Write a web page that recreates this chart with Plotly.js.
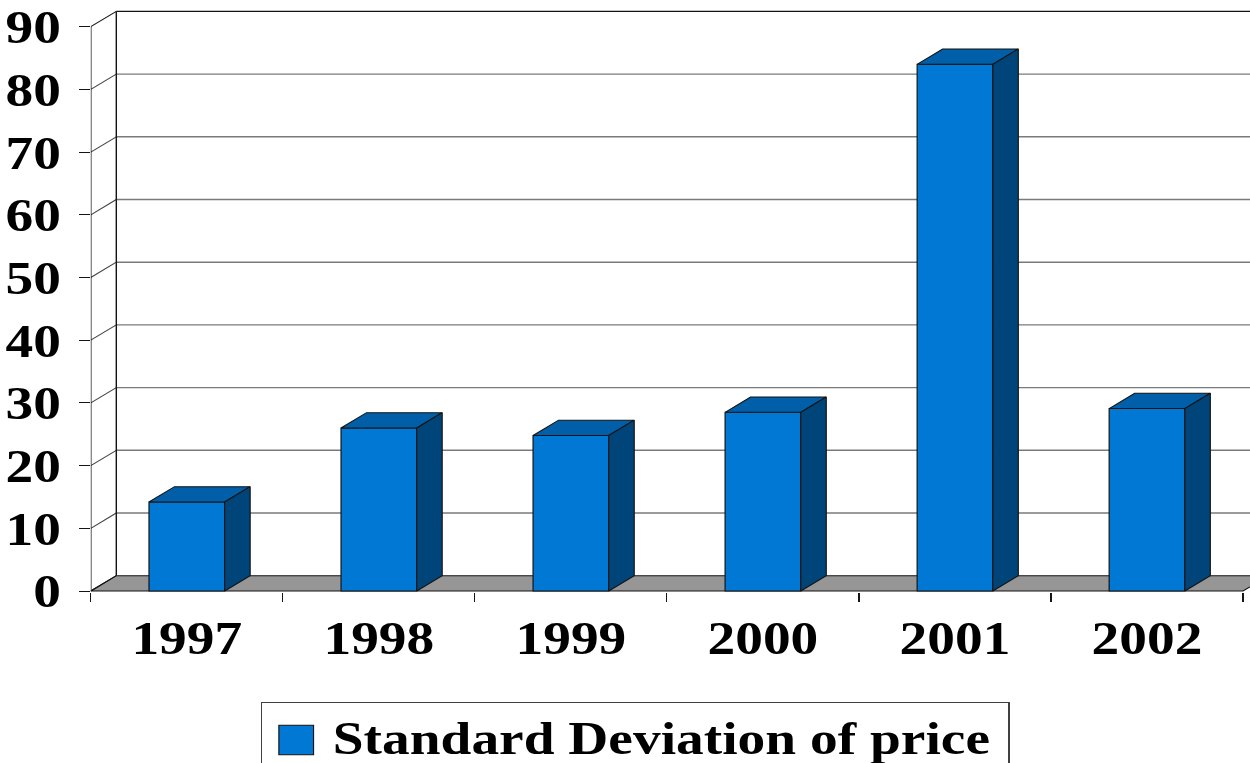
<!DOCTYPE html>
<html>
<head>
<meta charset="utf-8">
<script src="https://cdn.plot.ly/plotly-3.0.1.min.js"></script>
<style>
  html, body { margin: 0; padding: 0; background: #ffffff; overflow: hidden; }
  #chart { width: 1060px; height: 763px; transform-origin: 0 0; }
</style>
</head>
<body>
<div id="chart"></div>
<script>
// ---- data ----
const years = ['1997', '1998', '1999', '2000', '2001', '2002'];
const stdDev = [14.2, 26.0, 24.8, 28.5, 84.0, 29.1];
const valueTicks = [0, 10, 20, 30, 40, 50, 60, 70, 80, 90];
const seriesName = 'Standard Deviation of price';

// ---- geometry (final page pixels; the chart is drawn narrower and stretched wide) ----
const PAGE_W = 1250, PAGE_H = 763, DRAW_W = 1060;
const STRETCH = PAGE_W / DRAW_W;
const PLOT_LEFT = 91;      // front-left edge of the box
const CAT_PX = 192;        // width of one category slot
const ZERO_Y = 591;        // value 0 on the front edge
const UNIT_Y = 6.27;       // pixels per value unit
const TOP_Y = 5;           // top of the plotting area
const BOTTOM_Y = 592;
const DEPTH_X_PX = 25.5, DEPTH_Y_PX = 15.3;   // 3-D depth offset
const BAR_WIDTH = 0.394;

const N = years.length;
const dx = DEPTH_X_PX / CAT_PX;
const dy = DEPTH_Y_PX / UNIT_Y;
const vMax = valueTicks[valueTicks.length - 1];
const xRange = [-0.5, -0.5 + (PAGE_W - PLOT_LEFT) / CAT_PX];
const yRange = [(ZERO_Y - BOTTOM_Y) / UNIT_Y, (ZERO_Y - TOP_Y) / UNIT_Y];

const FONT = { family: "'Liberation Serif', 'Times New Roman', Times, serif", size: 47, color: '#000000', weight: 700 };
const FRONT = '#0078D4', TOP = '#005FA8', SIDE = '#00457A', EDGE = '#141414';
const GRID = '#7a7a7a';

// ---- bar faces built from the values ----
const topX = [], topY = [], sideX = [], sideY = [];
stdDev.forEach((v, i) => {
  const x0 = i - BAR_WIDTH / 2, x1 = i + BAR_WIDTH / 2;
  topX.push(x0, x1, x1 + dx, x0 + dx, x0, null);
  topY.push(v, v, v + dy, v + dy, v, null);
  sideX.push(x1, x1, x1 + dx, x1 + dx, x1, null);
  sideY.push(0, v, v + dy, dy, 0, null);
});

const traces = [
  {
    type: 'bar', name: seriesName, x: years, y: stdDev, width: BAR_WIDTH,
    marker: { color: FRONT, line: { color: EDGE, width: 1 } },
    hoverinfo: 'x+y', showlegend: true
  },
  {
    type: 'scatter', mode: 'lines', x: topX, y: topY, xaxis: 'x2', yaxis: 'y',
    fill: 'toself', fillcolor: TOP, line: { color: EDGE, width: 1 },
    connectgaps: false, hoverinfo: 'skip', showlegend: false
  },
  {
    type: 'scatter', mode: 'lines', x: sideX, y: sideY, xaxis: 'x2', yaxis: 'y',
    fill: 'toself', fillcolor: SIDE, line: { color: EDGE, width: 1 },
    connectgaps: false, hoverinfo: 'skip', showlegend: false
  }
];

// ---- box: floor, side wall, back wall ----
const shapes = [];
const L = -0.5, R = N - 0.5;
shapes.push({
  type: 'path', xref: 'x2', yref: 'y', layer: 'below',
  path: `M${L},0 L${R},0 L${R + dx},${dy} L${L + dx},${dy} Z`,
  fillcolor: '#969696', line: { color: EDGE, width: 1 }
});
valueTicks.forEach(v => {
  // diagonal on the side wall
  shapes.push({
    type: 'line', xref: 'x2', yref: 'y', layer: 'below',
    x0: L, y0: v, x1: L + dx, y1: v + dy,
    line: { color: v === vMax || v === 0 ? EDGE : '#444444', width: 1 }
  });
  // gridline on the back wall
  if (v > 0) {
    shapes.push({
      type: 'line', xref: 'x2', yref: 'y', layer: 'below',
      x0: L + dx, y0: v + dy, x1: R + dx, y1: v + dy,
      line: { color: v === vMax ? EDGE : GRID, width: 1.4 }
    });
  }
});
shapes.push({
  type: 'line', xref: 'x2', yref: 'y', layer: 'below',
  x0: L + dx, y0: dy, x1: L + dx, y1: vMax + dy, line: { color: EDGE, width: 1.2 }
});
shapes.push({
  type: 'line', xref: 'x2', yref: 'y', layer: 'below',
  x0: L, y0: 0, x1: L, y1: vMax, line: { color: EDGE, width: 1.2 }
});

const plotH = BOTTOM_Y - TOP_Y;
const plotWPage = PAGE_W - PLOT_LEFT;

const layout = {
  width: DRAW_W, height: PAGE_H,
  margin: { l: PLOT_LEFT / STRETCH, r: 0, t: TOP_Y, b: PAGE_H - BOTTOM_Y, pad: 0, autoexpand: false },
  paper_bgcolor: '#ffffff', plot_bgcolor: 'rgba(0,0,0,0)',
  font: FONT,
  bargap: 0,
  xaxis: {
    type: 'category', categoryorder: 'array', categoryarray: years,
    range: xRange, fixedrange: true,
    tickson: 'boundaries', ticks: 'outside', ticklen: 9, tickwidth: 1, tickcolor: EDGE,
    showgrid: false, showline: false, zeroline: false,
    tickfont: FONT, ticklabelstandoff: 14
  },
  xaxis2: {
    type: 'linear', overlaying: 'x', anchor: 'y', range: xRange,
    visible: false, fixedrange: true
  },
  yaxis: {
    range: yRange, fixedrange: true,
    tickmode: 'array', tickvals: valueTicks, ticktext: valueTicks.map(String),
    ticks: 'outside', ticklen: 9, tickwidth: 1, tickcolor: EDGE,
    showgrid: false, showline: false, zeroline: false,
    tickfont: FONT, ticklabelstandoff: 6
  },
  shapes: shapes,
  showlegend: true,
  legend: {
    x: (261 - PLOT_LEFT) / plotWPage, xanchor: 'left',
    y: (BOTTOM_Y - 702) / plotH, yanchor: 'top',
    font: FONT, bgcolor: '#ffffff', bordercolor: '#404040', borderwidth: 1,
    itemwidth: 50, orientation: 'h', entrywidth: 568
  }
};

Plotly.newPlot('chart', traces, layout, { displayModeBar: false, staticPlot: true }).then(() => {
  // enlarge the legend swatch and centre it in the space before the label
  const bg = document.querySelector('.legend .bg');
  const SWATCH_SCALE = 2.45;
  const SWATCH_CENTER_X = 29.5;   // from the left edge of the legend box
  document.querySelectorAll('.legendpoints path').forEach(p => {
    const base = p.getAttribute('transform') || '';
    p.setAttribute('transform', base + ` scale(${SWATCH_SCALE})`);
    p.style.vectorEffect = 'non-scaling-stroke';
    const pb = p.getBoundingClientRect(), bb = bg.getBoundingClientRect();
    const shift = (bb.left + SWATCH_CENTER_X) - (pb.left + pb.width / 2);
    p.setAttribute('transform', `translate(${shift},0) ` + base + ` scale(${SWATCH_SCALE})`);
  });
  // raise the legend label slightly so it sits level with the swatch
  document.querySelectorAll('.legend .legendtext').forEach(t => {
    t.setAttribute('transform', 'translate(0,-4)');
  });
  document.getElementById('chart').style.transform = `scaleX(${STRETCH})`;
});
</script>
</body>
</html>
